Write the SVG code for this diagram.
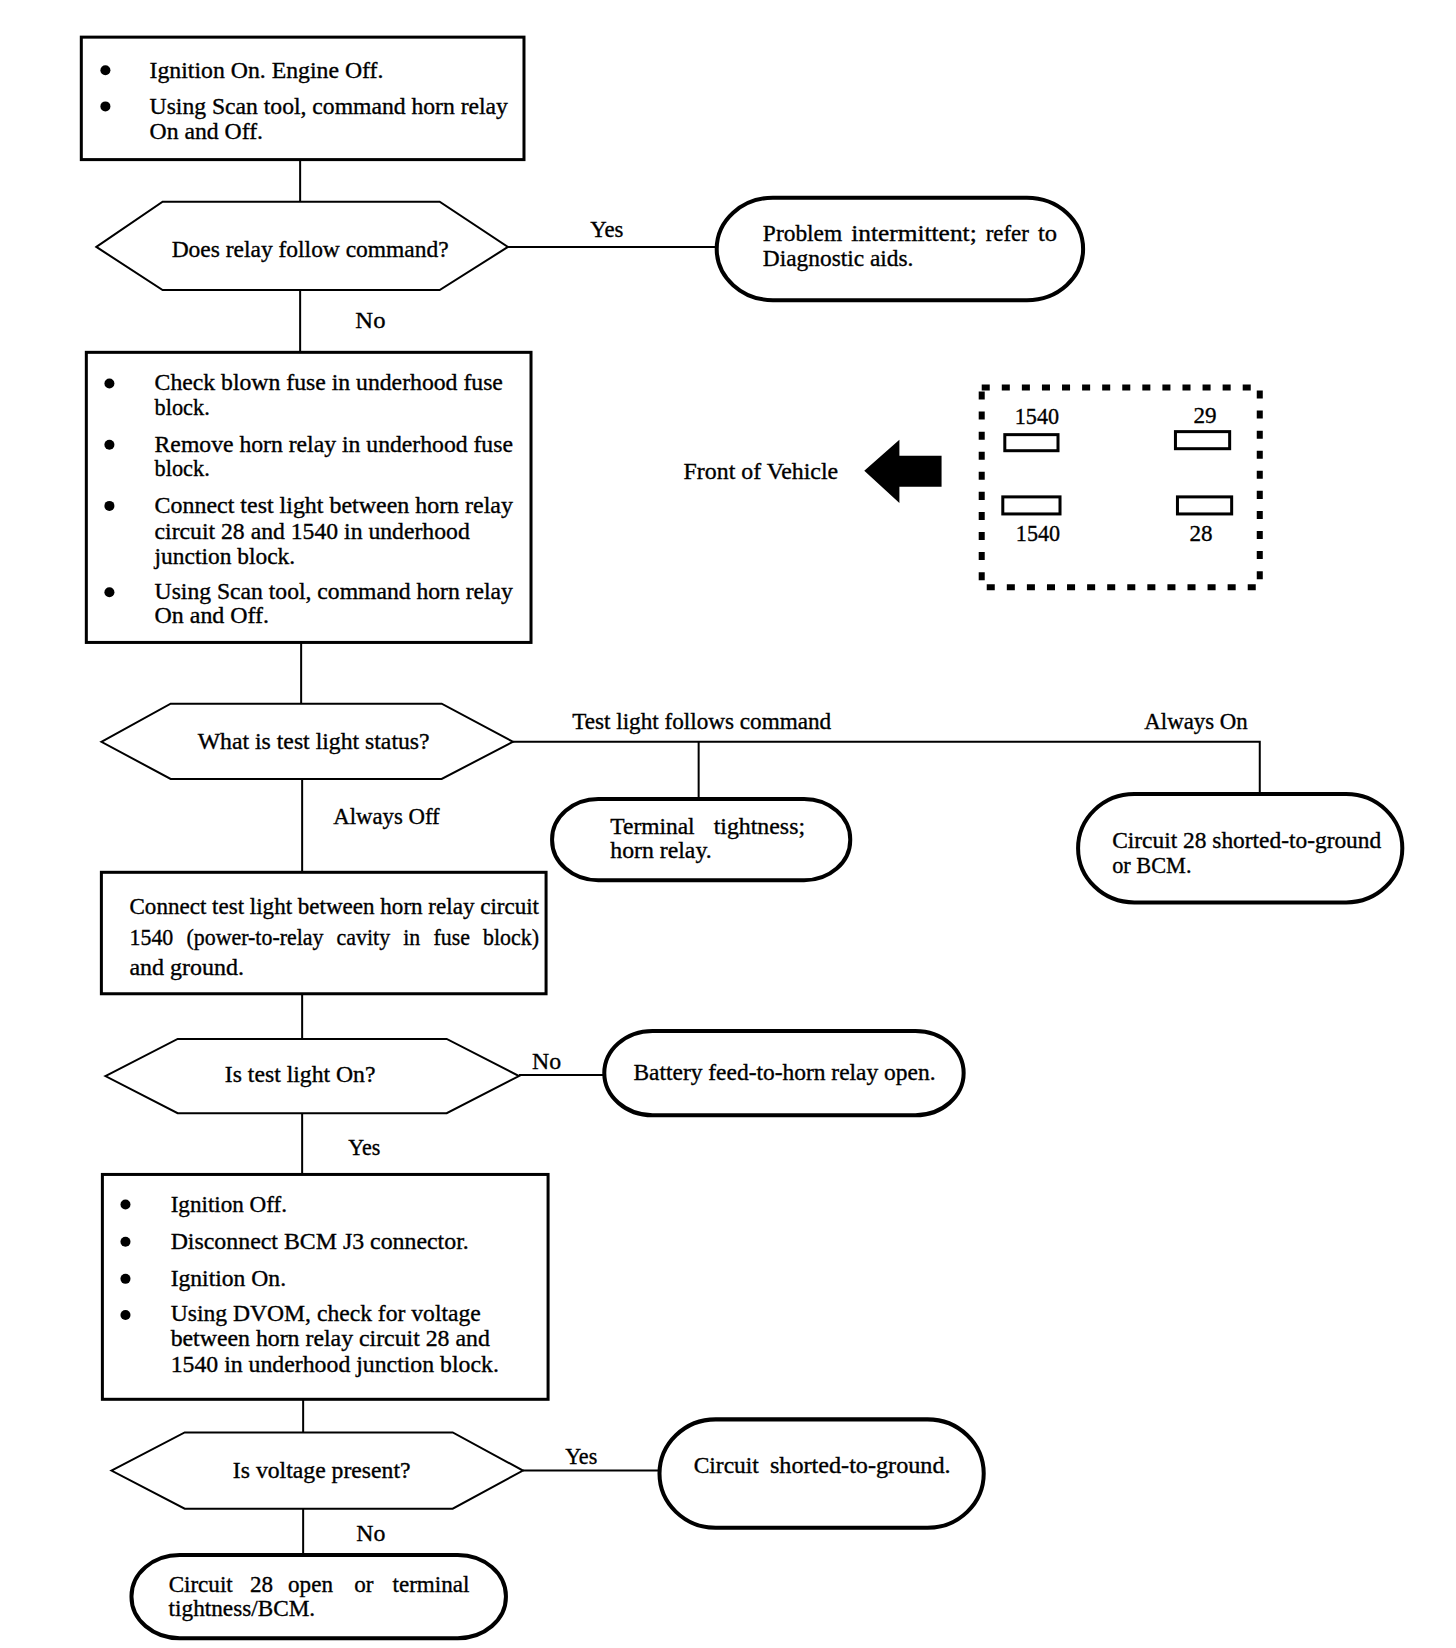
<svg xmlns="http://www.w3.org/2000/svg" width="1456" height="1648" viewBox="0 0 1456 1648">
<style>
text{font-family:"Liberation Serif","Times New Roman",serif;font-size:23px;fill:#000;stroke:#000;stroke-width:0.35}
.box{fill:#fff;stroke:#000;stroke-width:3}
.dia{fill:#fff;stroke:#000;stroke-width:2}
.term{fill:#fff;stroke:#000;stroke-width:4}
.conn{fill:none;stroke:#000;stroke-width:2}
.bul{fill:#000}
.pin{fill:#fff;stroke:#000;stroke-width:3}
</style>
<rect width="1456" height="1648" fill="#fff"/>
<g transform="scale(1.0038)">
<g id="connectors">
<path class="conn" d="M299 159V201"/>
<path class="conn" d="M506 246H714"/>
<path class="conn" d="M299 289V351"/>
<path class="conn" d="M300 640V701"/>
<path class="conn" d="M511 739H1255V791"/>
<path class="conn" d="M696 739V796"/>
<path class="conn" d="M301 776V869"/>
<path class="conn" d="M301 990V1035"/>
<path class="conn" d="M517 1071H602"/>
<path class="conn" d="M301 1109V1170"/>
<path class="conn" d="M302 1394V1427"/>
<path class="conn" d="M521 1465H657"/>
<path class="conn" d="M302 1503V1549"/>
<text x="588" y="236" textLength="33" lengthAdjust="spacingAndGlyphs">Yes</text>
<text x="354" y="327" textLength="30" lengthAdjust="spacingAndGlyphs">No</text>
<text x="570" y="726" textLength="258" lengthAdjust="spacingAndGlyphs">Test light follows command</text>
<text x="1140" y="726" textLength="103" lengthAdjust="spacingAndGlyphs">Always On</text>
<text x="332" y="821" textLength="106" lengthAdjust="spacingAndGlyphs">Always Off</text>
<text x="530" y="1065" textLength="29" lengthAdjust="spacingAndGlyphs">No</text>
<text x="347" y="1151" textLength="32" lengthAdjust="spacingAndGlyphs">Yes</text>
<text x="563" y="1458" textLength="32" lengthAdjust="spacingAndGlyphs">Yes</text>
<text x="355" y="1535" textLength="29" lengthAdjust="spacingAndGlyphs">No</text>
</g>
<g id="step1">
<rect class="box" x="81" y="37" width="441" height="122"/>
<circle class="bul" cx="105" cy="70" r="5"/>
<circle class="bul" cx="105" cy="106" r="5"/>
<text x="149" y="78" textLength="233" lengthAdjust="spacingAndGlyphs">Ignition On. Engine Off.</text>
<text x="149" y="114" textLength="357" lengthAdjust="spacingAndGlyphs">Using Scan tool, command horn relay</text>
<text x="149" y="138" textLength="113" lengthAdjust="spacingAndGlyphs">On and Off.</text>
</g>
<g id="decision1">
<polygon class="dia" points="96,246 162,201 438,201 506,246 438,289 162,289"/>
<text x="171" y="256" textLength="276" lengthAdjust="spacingAndGlyphs">Does relay follow command?</text>
</g>
<g id="result-intermittent">
<rect class="term" x="714" y="197" width="365" height="102" rx="56" ry="51"/>
<text y="240"><tspan x="760" textLength="79" lengthAdjust="spacingAndGlyphs">Problem</tspan><tspan x="848" textLength="125" lengthAdjust="spacingAndGlyphs">intermittent;</tspan><tspan x="982" textLength="43" lengthAdjust="spacingAndGlyphs">refer</tspan><tspan x="1034" textLength="19" lengthAdjust="spacingAndGlyphs">to</tspan></text>
<text x="760" y="265" textLength="150" lengthAdjust="spacingAndGlyphs">Diagnostic aids.</text>
</g>
<g id="step2">
<rect class="box" x="86" y="351" width="443" height="289"/>
<circle class="bul" cx="109" cy="382" r="5"/>
<circle class="bul" cx="109" cy="443" r="5"/>
<circle class="bul" cx="109" cy="504" r="5"/>
<circle class="bul" cx="109" cy="590" r="5"/>
<text x="154" y="389" textLength="347" lengthAdjust="spacingAndGlyphs">Check blown fuse in underhood fuse</text>
<text x="154" y="413" textLength="55" lengthAdjust="spacingAndGlyphs">block.</text>
<text x="154" y="450" textLength="357" lengthAdjust="spacingAndGlyphs">Remove horn relay in underhood fuse</text>
<text x="154" y="474" textLength="55" lengthAdjust="spacingAndGlyphs">block.</text>
<text x="154" y="511" textLength="357" lengthAdjust="spacingAndGlyphs">Connect test light between horn relay</text>
<text x="154" y="537" textLength="314" lengthAdjust="spacingAndGlyphs">circuit 28 and 1540 in underhood</text>
<text x="154" y="562" textLength="140" lengthAdjust="spacingAndGlyphs">junction block.</text>
<text x="154" y="597" textLength="357" lengthAdjust="spacingAndGlyphs">Using Scan tool, command horn relay</text>
<text x="154" y="621" textLength="114" lengthAdjust="spacingAndGlyphs">On and Off.</text>
</g>
<g id="relay-cavity-view">
<text x="681" y="477" textLength="154" lengthAdjust="spacingAndGlyphs">Front of Vehicle</text>
<polygon fill="#000" points="861,469 896,438 896,454 938,454 938,485 896,485 896,501"/>
<rect x="978" y="386" width="277" height="199" fill="none" stroke="#000" stroke-width="6" stroke-dasharray="8 12"/>
<text x="1011" y="422" textLength="44" lengthAdjust="spacingAndGlyphs">1540</text>
<rect class="pin" x="1001" y="433" width="53" height="16"/>
<text x="1189" y="421" textLength="23" lengthAdjust="spacingAndGlyphs">29</text>
<rect class="pin" x="1171" y="430" width="54" height="17"/>
<rect class="pin" x="999" y="495" width="57" height="17"/>
<text x="1012" y="539" textLength="44" lengthAdjust="spacingAndGlyphs">1540</text>
<rect class="pin" x="1173" y="495" width="54" height="17"/>
<text x="1185" y="539" textLength="23" lengthAdjust="spacingAndGlyphs">28</text>
</g>
<g id="decision2">
<polygon class="dia" points="101,739 170,701 440,701 511,739 440,776 170,776"/>
<text x="197" y="746" textLength="231" lengthAdjust="spacingAndGlyphs">What is test light status?</text>
</g>
<g id="result-terminal">
<rect class="term" x="550" y="796" width="297" height="81" rx="46" ry="40"/>
<text y="831"><tspan x="608" textLength="84" lengthAdjust="spacingAndGlyphs">Terminal</tspan><tspan x="711" textLength="91" lengthAdjust="spacingAndGlyphs">tightness;</tspan></text>
<text x="608" y="855" textLength="101" lengthAdjust="spacingAndGlyphs">horn relay.</text>
</g>
<g id="result-circuit28-short">
<rect class="term" x="1074" y="791" width="323" height="108" rx="56" ry="54"/>
<text x="1108" y="845" textLength="268" lengthAdjust="spacingAndGlyphs">Circuit 28 shorted-to-ground</text>
<text x="1108" y="870" textLength="79" lengthAdjust="spacingAndGlyphs">or BCM.</text>
</g>
<g id="step3">
<rect class="box" x="101" y="869" width="443" height="121"/>
<text x="129" y="911" textLength="408" lengthAdjust="spacingAndGlyphs">Connect test light between horn relay circuit</text>
<text x="129" y="941" textLength="408" lengthAdjust="spacingAndGlyphs" word-spacing="8">1540 (power-to-relay cavity in fuse block)</text>
<text x="129" y="971" textLength="114" lengthAdjust="spacingAndGlyphs">and ground.</text>
</g>
<g id="decision3">
<polygon class="dia" points="105,1072 177,1035 445,1035 517,1072 445,1109 177,1109"/>
<text x="224" y="1078" textLength="150" lengthAdjust="spacingAndGlyphs">Is test light On?</text>
</g>
<g id="result-battery">
<rect class="term" x="602" y="1027" width="358" height="84" rx="48" ry="42"/>
<text x="631" y="1076" textLength="301" lengthAdjust="spacingAndGlyphs">Battery feed-to-horn relay open.</text>
</g>
<g id="step4">
<rect class="box" x="102" y="1170" width="444" height="224"/>
<circle class="bul" cx="125" cy="1200" r="5"/>
<circle class="bul" cx="125" cy="1237" r="5"/>
<circle class="bul" cx="125" cy="1274" r="5"/>
<circle class="bul" cx="125" cy="1310" r="5"/>
<text x="170" y="1207" textLength="116" lengthAdjust="spacingAndGlyphs">Ignition Off.</text>
<text x="170" y="1244" textLength="297" lengthAdjust="spacingAndGlyphs">Disconnect BCM J3 connector.</text>
<text x="170" y="1281" textLength="115" lengthAdjust="spacingAndGlyphs">Ignition On.</text>
<text x="170" y="1316" textLength="309" lengthAdjust="spacingAndGlyphs">Using DVOM, check for voltage</text>
<text x="170" y="1341" textLength="318" lengthAdjust="spacingAndGlyphs">between horn relay circuit 28 and</text>
<text x="170" y="1367" textLength="327" lengthAdjust="spacingAndGlyphs">1540 in underhood junction block.</text>
</g>
<g id="decision4">
<polygon class="dia" points="111,1465 184,1427 451,1427 521,1465 451,1503 184,1503"/>
<text x="232" y="1472" textLength="177" lengthAdjust="spacingAndGlyphs">Is voltage present?</text>
</g>
<g id="result-short">
<rect class="term" x="657" y="1414" width="323" height="108" rx="56" ry="54"/>
<text y="1467"><tspan x="691" textLength="65" lengthAdjust="spacingAndGlyphs">Circuit</tspan><tspan x="767" textLength="180" lengthAdjust="spacingAndGlyphs">shorted-to-ground.</tspan></text>
</g>
<g id="result-open">
<rect class="term" x="131" y="1549" width="373" height="83" rx="48" ry="41"/>
<text y="1586"><tspan x="168">Circuit</tspan><tspan x="249">28</tspan><tspan x="287">open</tspan><tspan x="353">or</tspan><tspan x="391">terminal</tspan></text>
<text x="168" y="1610" textLength="146" lengthAdjust="spacingAndGlyphs">tightness/BCM.</text>
</g>
</g>
</svg>
